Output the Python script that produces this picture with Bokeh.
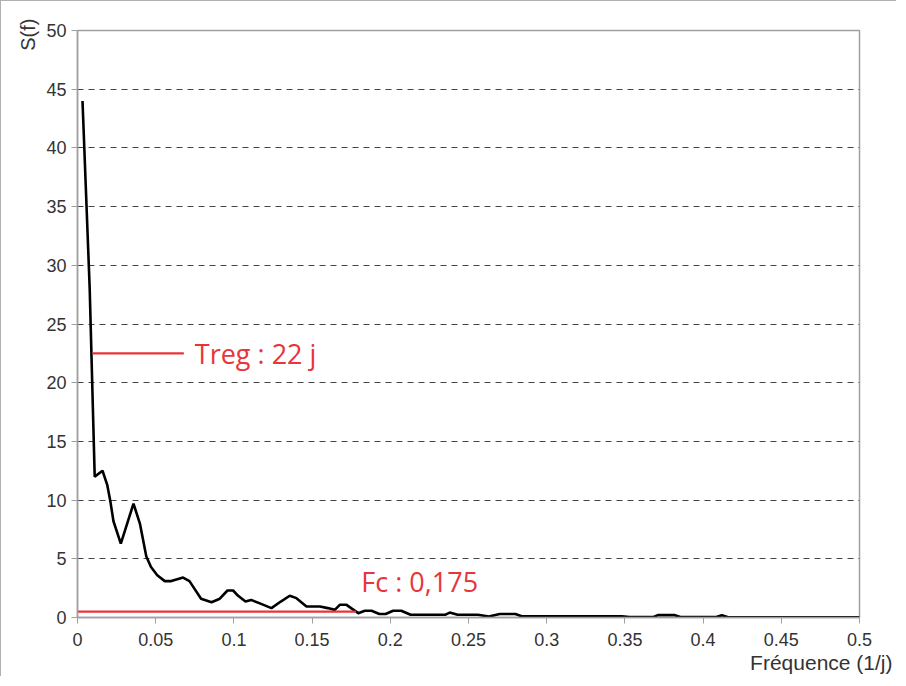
import math
from bokeh.plotting import figure
from bokeh.models import FixedTicker, Label, ColumnDataSource, Title
from bokeh.embed import file_html
from bokeh.resources import INLINE

# ---- data ----
freq = [0.0032, 0.0078, 0.0110, 0.0160, 0.0190, 0.0210, 0.0230, 0.0277, 0.0358, 0.0399,
        0.0440, 0.0470, 0.0510, 0.0558, 0.0600, 0.0675, 0.0716, 0.0790, 0.0857, 0.0910,
        0.0959, 0.0995, 0.1027, 0.1074, 0.1110, 0.1166, 0.1240, 0.1300, 0.1357, 0.1400,
        0.1464, 0.1550, 0.1600, 0.1645, 0.1677, 0.1720, 0.1795, 0.1837, 0.1880, 0.1930,
        0.1970, 0.2018, 0.2070, 0.2130, 0.2350, 0.2380, 0.2430, 0.2560, 0.2630, 0.2700,
        0.2800, 0.2840, 0.3480, 0.3530, 0.3680, 0.3710, 0.3820, 0.3860, 0.4080, 0.4120,
        0.4160, 0.5000]
S_f = [44.0, 28.0, 12.0, 12.5, 11.3, 9.9, 8.2, 6.3, 9.7, 8.0,
       5.2, 4.3, 3.6, 3.1, 3.1, 3.4, 3.1, 1.6, 1.3, 1.6,
       2.3, 2.3, 1.85, 1.36, 1.5, 1.2, 0.8, 1.36, 1.85, 1.65,
       0.94, 0.94, 0.8, 0.65, 1.08, 1.08, 0.37, 0.57, 0.57, 0.3,
       0.3, 0.57, 0.57, 0.23, 0.23, 0.42, 0.23, 0.23, 0.08, 0.3,
       0.3, 0.1, 0.1, 0.03, 0.03, 0.2, 0.2, 0.03, 0.03, 0.2,
       0.02, 0.02]

treg_x = [0.0096, 0.068]
treg_y = [22.5, 22.5]
treg_text = "Treg : 22 j"
fc_x = [0.0, 0.178]
fc_y = [0.5, 0.5]
fc_text = "Fc : 0,175"

x_ticks = [0, 0.05, 0.1, 0.15, 0.2, 0.25, 0.3, 0.35, 0.4, 0.45, 0.5]
x_tick_labels = ["0", "0.05", "0.1", "0.15", "0.2", "0.25", "0.3", "0.35", "0.4", "0.45", "0.5"]
y_ticks = [0, 5, 10, 15, 20, 25, 30, 35, 40, 45, 50]
y_title = "S(f)"
x_title = "Fréquence (1/j)"

RED = "#e8343b"
FONT = "Liberation Sans"
ANNO_FONT = "Open Sans"

p = figure(width=896, height=676, output_backend="svg", toolbar_location=None,
           x_range=(0, 0.5), y_range=(0, 50),
           min_border_left=76, min_border_right=38, min_border_top=29, min_border_bottom=60)
p.styles = {"border-top": "1px solid #b0b0b0", "border-left": "1px solid #b0b0b0"}

p.outline_line_color = "#a0a0a0"
p.outline_line_width = 1.5

p.xgrid.grid_line_color = None
p.ygrid.grid_line_color = "#444444"
p.ygrid.grid_line_dash = "6 5"
p.ygrid.grid_line_width = 1.2
p.ygrid.ticker = FixedTicker(ticks=y_ticks[1:-1])

for ax in (p.xaxis[0], p.yaxis[0]):
    ax.axis_line_color = "#a0a0a0"
    ax.axis_line_width = 1.5
    ax.major_tick_line_color = "#a0a0a0"
    ax.major_tick_out = 6
    ax.major_tick_in = 0
    ax.minor_tick_line_color = None
    ax.major_label_text_font = FONT
    ax.major_label_text_font_size = "18px"
    ax.major_label_text_color = "#333333"

p.xaxis.ticker = FixedTicker(ticks=x_ticks)
p.xaxis.major_label_overrides = {t: l for t, l in zip(x_ticks, x_tick_labels)}
p.xaxis.major_label_standoff = 9
p.yaxis.ticker = FixedTicker(ticks=y_ticks)
p.yaxis.major_label_standoff = 5

src = ColumnDataSource(dict(f=freq, s=S_f))
p.line("f", "s", source=src, line_color="black", line_width=2.6)

p.line(treg_x, treg_y, line_color=RED, line_width=2.2)
p.line(fc_x, fc_y, line_color=RED, line_width=2.2)

p.add_layout(Label(x=0.0750, y=22.5, text=treg_text, text_color=RED, text_font=ANNO_FONT,
                   text_font_size="27px", text_baseline="middle", text_align="left"))
p.add_layout(Label(x=0.1815, y=3.1, text=fc_text, text_color=RED, text_font=ANNO_FONT,
                   text_font_size="27px", text_baseline="middle", text_align="left"))

p.add_layout(Title(text=y_title, align="right", text_font=FONT, text_font_size="20px",
                   text_color="#333333", text_font_style="normal", standoff=10, offset=-12),
             "left")
p.add_layout(Title(text=x_title, align="right", text_font=FONT, text_font_size="21px",
                   text_color="#333333", text_font_style="normal", standoff=0, offset=-33),
             "below")

open("out.html", "w").write(file_html(p, INLINE))
